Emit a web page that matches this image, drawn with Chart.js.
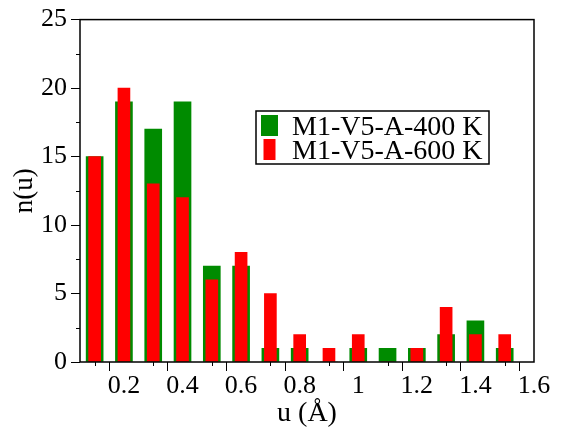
<!DOCTYPE html>
<html>
<head>
<meta charset="utf-8">
<script src="https://cdn.jsdelivr.net/npm/chart.js@4/dist/chart.umd.min.js"></script>
<style>
    html, body { margin: 0; padding: 0; background: #ffffff; }
    #wrap { width: 561px; height: 428px; }
</style>
</head>
<body>
<div id="wrap"><canvas id="histCanvas" width="561" height="428"></canvas></div>
<script>
// Histogram bins (u in Angstrom) and counts per temperature
const uBins = [0.1, 0.2, 0.3, 0.4, 0.5, 0.6, 0.7, 0.8, 0.9, 1.0, 1.1, 1.2, 1.3, 1.4, 1.5];
const counts400K = [15, 19, 17, 19, 7, 7, 1, 1, 0, 1, 1, 1, 2, 3, 1];
const counts600K = [15, 20, 13, 12, 6, 8, 5, 2, 1, 2, 0, 1, 4, 2, 2];
const seriesLabels = ['M1-V5-A-400 K', 'M1-V5-A-600 K'];

// Tick labels shown on the axes (minor ticks carry no label)
const xTickLabels = ['0.2', '0.4', '0.6', '0.8', '1', '1.2', '1.4', '1.6'];
const yTickLabels = ['0', '5', '10', '15', '20', '25'];

const SERIF = "'Liberation Serif', 'Times New Roman', serif";

function xLabelFor(v) {
    const k = Math.round(v * 10);
    if (k % 2 !== 0) return '';
    return xTickLabels[k / 2 - 1] || '';
}

function yLabelFor(v) {
    const k = Math.round(v * 2);
    if (k % 10 !== 0) return '';
    return yTickLabels[k / 10] || '';
}

// Frame, minor ticks and the boxed legend, drawn in the xmgrace look
const framePlugin = {
    id: 'frame',
    afterDraw(chart) {
        const ctx = chart.ctx;
        const a = chart.chartArea;
        ctx.save();
        ctx.strokeStyle = '#000';
        ctx.lineWidth = 1.5;
        ctx.strokeRect(a.left, a.top, a.right - a.left, a.bottom - a.top);

        // short minor ticks
        ctx.lineWidth = 1;
        chart.scales.x.ticks.forEach(t => {
            if (Math.round(t.value * 10) % 2 === 0) return;
            const px = Math.round(chart.scales.x.getPixelForValue(t.value)) + 0.5;
            ctx.beginPath(); ctx.moveTo(px, a.bottom); ctx.lineTo(px, a.bottom + 4); ctx.stroke();
        });
        chart.scales.y.ticks.forEach(t => {
            if (Math.round(t.value * 2) % 10 === 0) return;
            const py = Math.round(chart.scales.y.getPixelForValue(t.value)) + 0.5;
            ctx.beginPath(); ctx.moveTo(a.left, py); ctx.lineTo(a.left - 4, py); ctx.stroke();
        });

        // legend box
        const box = { x: 256, y: 111, w: 233, h: 53 };
        ctx.fillStyle = '#fff';
        ctx.fillRect(box.x, box.y, box.w, box.h);
        ctx.lineWidth = 1.5;
        ctx.strokeRect(box.x, box.y, box.w, box.h);
        const rowBase = [135, 159];
        chart.data.datasets.forEach((ds, i) => {
            const sw = ds.barThickness;
            const cx = 269.5;
            ctx.fillStyle = ds.backgroundColor;
            ctx.fillRect(cx - sw / 2, rowBase[i] - 20, sw, 21);
            ctx.fillStyle = '#000';
            ctx.font = '28px ' + SERIF;
            ctx.textBaseline = 'alphabetic';
            ctx.fillText(ds.label, 292, rowBase[i]);
        });
        ctx.restore();
    }
};

const ctx = document.getElementById('histCanvas').getContext('2d');
new Chart(ctx, {
    type: 'bar',
    data: {
        datasets: [
            {
                label: seriesLabels[0],
                data: uBins.map((u, i) => ({ x: u, y: counts400K[i] })),
                backgroundColor: '#008b00',
                barThickness: 17,
                order: 2
            },
            {
                label: seriesLabels[1],
                data: uBins.map((u, i) => ({ x: u, y: counts600K[i] })),
                backgroundColor: '#ff0000',
                barThickness: 12,
                order: 1
            }
        ]
    },
    options: {
        responsive: false,
        animation: false,
        grouped: false,
        layout: { padding: { top: 18, right: 27, left: 0, bottom: 0 } },
        plugins: { legend: { display: false }, tooltip: { enabled: false } },
        scales: {
            x: {
                type: 'linear',
                min: 0.05,
                max: 1.6,
                offset: false,
                afterBuildTicks: s => { s.ticks = Array.from({ length: 16 }, (_, k) => ({ value: (k + 1) / 10 })); },
                afterFit: s => { s.height = 66; },
                grid: {
                    drawOnChartArea: false,
                    tickLength: 9,
                    tickColor: c => (c.tick && Math.round(c.tick.value * 10) % 2 === 0) ? '#000' : 'rgba(0,0,0,0)'
                },
                border: { display: false },
                ticks: {
                    autoSkip: false,
                    maxRotation: 0,
                    padding: 0,
                    color: '#000',
                    font: { family: SERIF, size: 26 },
                    callback: v => xLabelFor(v)
                },
                title: {
                    display: true,
                    text: 'u (Å)',
                    color: '#000',
                    font: { family: SERIF, size: 28, lineHeight: 1 },
                    padding: { top: 0, bottom: 0 }
                }
            },
            y: {
                min: 0,
                max: 25,
                afterBuildTicks: s => { s.ticks = Array.from({ length: 11 }, (_, k) => ({ value: k * 2.5 })); },
                afterFit: s => { s.width = 80; },
                grid: {
                    drawOnChartArea: false,
                    tickLength: 9,
                    tickColor: c => (c.tick && Math.round(c.tick.value * 2) % 10 === 0) ? '#000' : 'rgba(0,0,0,0)'
                },
                border: { display: false },
                ticks: {
                    autoSkip: false,
                    padding: 4,
                    color: '#000',
                    font: { family: SERIF, size: 26 },
                    callback: v => yLabelFor(v)
                },
                title: {
                    display: true,
                    text: 'n(u)',
                    color: '#000',
                    font: { family: SERIF, size: 27, lineHeight: 1 },
                    padding: { top: 11, bottom: 0 }
                }
            }
        }
    },
    plugins: [framePlugin]
});
</script>
</body>
</html>
